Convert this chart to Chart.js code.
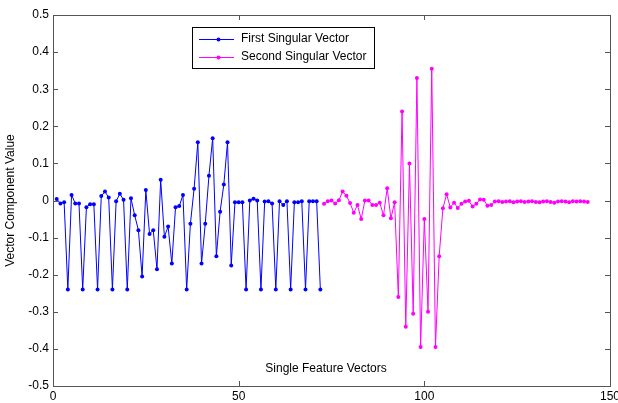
<!DOCTYPE html>
<html>
<head>
<meta charset="utf-8">
<script src="https://cdn.jsdelivr.net/npm/chart.js@4/dist/chart.umd.min.js"></script>
<style>
  html, body { margin: 0; padding: 0; background: #fff; }
</style>
</head>
<body>
<canvas id="myChart" width="618" height="403"></canvas>
<script>
// values, index 1..72 then 73..144
const firstVector = [
  0.004, -0.008, -0.005, -0.24, 0.015, -0.008, -0.008, -0.24, -0.018, -0.01,
  -0.01, -0.24, 0.012, 0.024, 0.008, -0.24, -0.002, 0.018, 0.002, -0.24,
  0.006, -0.04, -0.08, -0.205, 0.028, -0.09, -0.08, -0.185, 0.056, -0.098,
  -0.07, -0.17, -0.018, -0.015, 0.015, -0.24, -0.063, 0.032, 0.157, -0.17,
  -0.063, 0.067, 0.168, -0.15, -0.03, 0.043, 0.157, -0.175, -0.005, -0.005,
  -0.005, -0.24, 0.0, 0.005, 0.0, -0.24, -0.003, -0.002, -0.008, -0.24,
  -0.002, -0.012, -0.002, -0.24, -0.005, -0.005, -0.002, -0.24, -0.002, -0.002,
  -0.002, -0.24,
];
const secondVector = [
  -0.009, -0.002, 0.0, -0.008, 0.001, 0.024, 0.013, -0.007, -0.033, -0.012,
  -0.05, 0.0, 0.0, -0.012, -0.012, -0.006, -0.04, 0.033, -0.048, -0.005,
  -0.26, 0.24, -0.34, 0.1, -0.305, 0.33, -0.395, -0.05, -0.3, 0.355,
  -0.395, -0.15, -0.021, 0.017, -0.019, -0.006, -0.02, -0.009, -0.003, -0.001,
  -0.016, -0.009, 0.003, 0.002, -0.014, -0.012, -0.003,
  -0.002, -0.004, -0.003, -0.002, -0.005, -0.003, -0.002, -0.004, -0.003, -0.002,
  -0.004, -0.005, -0.003, -0.002, -0.004, -0.006, -0.003, -0.002, -0.003, -0.005,
  -0.002, -0.003, -0.002, -0.003, -0.004,
];
const seriesNames = ['First Singular Vector', 'Second Singular Vector'];
const xTicks = [0, 50, 100, 150];
const yTicks = [-0.5, -0.4, -0.3, -0.2, -0.1, 0, 0.1, 0.2, 0.3, 0.4, 0.5];

const firstStart = 1;
const secondStart = firstStart + firstVector.length;
const toPoints = (arr, start) => arr.map((v, i) => ({ x: start + i, y: v }));

const FONT = 'Arial, "Liberation Sans", sans-serif';

// matlab-style box, inward ticks, legend box and the inner x label
const matlabFrame = {
  id: 'matlabFrame',
  afterDraw(chart) {
    const { ctx, chartArea: a, scales: { x, y } } = chart;
    ctx.save();
    ctx.strokeStyle = '#555';
    ctx.lineWidth = 1;
    ctx.strokeRect(Math.round(a.left) + 0.5, Math.round(a.top) + 0.5,
      Math.round(a.right - a.left), Math.round(a.bottom - a.top));
    ctx.beginPath();
    xTicks.forEach((t) => {
      const px = Math.round(x.getPixelForValue(t)) + 0.5;
      ctx.moveTo(px, a.bottom); ctx.lineTo(px, a.bottom - 5);
      ctx.moveTo(px, a.top); ctx.lineTo(px, a.top + 5);
    });
    yTicks.forEach((t) => {
      const py = Math.round(y.getPixelForValue(t)) + 0.5;
      ctx.moveTo(a.left, py); ctx.lineTo(a.left + 5, py);
      ctx.moveTo(a.right, py); ctx.lineTo(a.right - 5, py);
    });
    ctx.stroke();

    // x label sits inside the plot
    ctx.fillStyle = '#000';
    ctx.font = '12px ' + FONT;
    ctx.textAlign = 'center';
    ctx.textBaseline = 'middle';
    ctx.fillText('Single Feature Vectors', 326, 369);

    // legend
    const bx = 192, by = 27, bw = 182, bh = 41;
    ctx.fillStyle = '#fff';
    ctx.fillRect(bx, by, bw, bh);
    ctx.strokeStyle = '#000';
    ctx.strokeRect(bx + 0.5, by + 0.5, bw, bh);
    const colors = ['#0000ff', '#ff00ff'];
    const rows = [39, 57];
    ctx.textAlign = 'left';
    rows.forEach((ry, i) => {
      ctx.strokeStyle = colors[i];
      ctx.fillStyle = colors[i];
      ctx.beginPath();
      ctx.moveTo(199, ry + 0.5); ctx.lineTo(234, ry + 0.5);
      ctx.stroke();
      ctx.beginPath();
      ctx.arc(218.5, ry + 0.5, 2, 0, Math.PI * 2);
      ctx.fill();
      ctx.fillStyle = '#000';
      ctx.fillText(seriesNames[i], 241, ry);
    });
    ctx.restore();
  },
};

new Chart('myChart', {
  type: 'line',
  data: {
    datasets: [
      {
        label: seriesNames[0],
        data: toPoints(firstVector, firstStart),
        borderColor: '#0000ff',
        backgroundColor: '#0000ff',
        borderWidth: 1,
        pointRadius: 2,
        pointBorderWidth: 0,
        tension: 0,
      },
      {
        label: seriesNames[1],
        data: toPoints(secondVector, secondStart),
        borderColor: '#ff00ff',
        backgroundColor: '#ff00ff',
        borderWidth: 1,
        pointRadius: 2,
        pointBorderWidth: 0,
        tension: 0,
      },
    ],
  },
  options: {
    responsive: false,
    animation: false,
    layout: { padding: { top: 15, right: 8, left: 0, bottom: 0 } },
    plugins: {
      legend: { display: false },
      tooltip: { enabled: false },
    },
    scales: {
      x: {
        type: 'linear',
        min: 0,
        max: 150,
        afterBuildTicks: (s) => { s.ticks = xTicks.map((v) => ({ value: v })); },
        afterFit: (s) => { s.height = 17; s.paddingLeft = 0; s.paddingRight = 0; },
        grid: { display: false, drawTicks: false },
        border: { display: false },
        ticks: { color: '#000', font: { size: 12, family: FONT }, padding: 3, maxRotation: 0 },
      },
      y: {
        min: -0.5,
        max: 0.5,
        afterBuildTicks: (s) => { s.ticks = yTicks.map((v) => ({ value: v })); },
        afterFit: (s) => { s.width = 53; s.paddingTop = 0; s.paddingBottom = 0; },
        grid: { display: false, drawTicks: false },
        border: { display: false },
        ticks: {
          color: '#000',
          font: { size: 12, family: FONT },
          padding: 4,
          callback: (v) => (Math.abs(v) < 1e-9 ? '0' : Number(v).toFixed(1)),
        },
        title: {
          display: true,
          text: 'Vector Component Value',
          color: '#000',
          font: { size: 12, family: FONT },
          padding: { top: 3, bottom: 0 },
        },
      },
    },
  },
  plugins: [matlabFrame],
});
</script>
</body>
</html>
